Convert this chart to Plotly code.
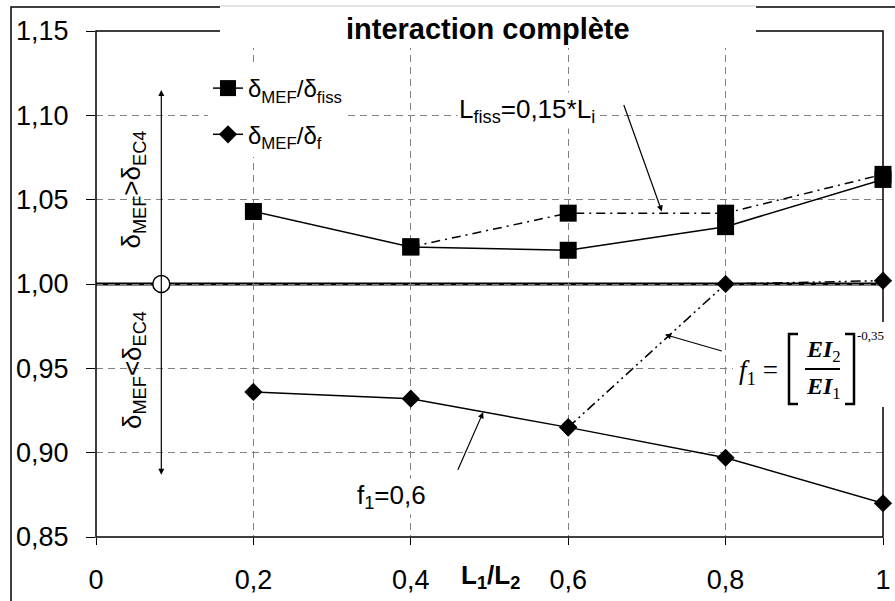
import plotly.graph_objects as go

# valeurs
l_ratio = [0.2, 0.4, 0.6, 0.8, 1.0]
d_fiss = [1.043, 1.022, 1.020, 1.034, 1.062]
x_fiss15 = [0.4, 0.6, 0.8, 1.0]
d_fiss15 = [1.022, 1.042, 1.042, 1.065]
d_f06 = [0.936, 0.932, 0.915, 0.897, 0.870]
x_f1 = [0.6, 0.8, 1.0]
d_f1 = [0.915, 1.000, 1.002]
x_ref = [0.083]
y_ref = [1.0]

x_ticks = [0, 0.2, 0.4, 0.6, 0.8, 1.0]
x_labels = ['0', '0,2', '0,4', '0,6', '0,8', '1']

FONT = 'Liberation Sans'
SERIF = 'Liberation Serif'

# zone de tracé en pixels (895x601)
L, R, T, B = 96, 883, 31, 537


def px(X):
    return (X - L) / (R - L)


def py(Y):
    return 1 - (Y - T) / (B - T)


fig = go.Figure()

fig.add_trace(go.Scatter(
    x=l_ratio, y=d_fiss, mode='lines+markers', name='δ<sub>MEF</sub>/δ<sub>fiss</sub>',
    line=dict(color='black', width=1.5), marker=dict(symbol='square', size=17, color='black'),
    legendgroup='a', cliponaxis=False))
fig.add_trace(go.Scatter(
    x=x_fiss15, y=d_fiss15, mode='lines+markers', showlegend=False,
    line=dict(color='black', width=1.5, dash='9px,5px,2px,5px'),
    marker=dict(symbol='square', size=17, color='black'), cliponaxis=False))
fig.add_trace(go.Scatter(
    x=l_ratio, y=d_f06, mode='lines+markers', name='δ<sub>MEF</sub>/δ<sub>f</sub>',
    line=dict(color='black', width=1.5), marker=dict(symbol='diamond', size=14, color='black'),
    legendgroup='b', cliponaxis=False))
fig.add_trace(go.Scatter(
    x=x_f1, y=d_f1, mode='lines+markers', showlegend=False,
    line=dict(color='black', width=1.5, dash='10px,4px,2px,4px,2px,4px'),
    marker=dict(symbol='diamond', size=14, color='black'), cliponaxis=False))
fig.add_trace(go.Scatter(
    x=x_ref, y=y_ref, mode='markers', showlegend=False,
    marker=dict(symbol='circle', size=17, color='white', line=dict(color='black', width=1.5)),
    cliponaxis=False))

shapes = [
    # cadre extérieur
    dict(type='rect', xref='paper', yref='paper', x0=px(11), x1=px(905), y0=py(7), y1=py(620),
         line=dict(color='black', width=1.5), layer='below'),
    # ligne 1,00
    dict(type='line', xref='x', yref='y', x0=0, x1=1, y0=1, y1=1,
         line=dict(color='black', width=3), layer='below'),
    # cadre de la zone de tracé
    dict(type='rect', xref='paper', yref='paper', x0=0, x1=1, y0=0, y1=1,
         line=dict(color='black', width=1.5), layer='above'),
    # fond blanc du titre
    dict(type='rect', xref='paper', yref='paper', x0=px(220), x1=px(756), y0=py(48), y1=py(6),
         fillcolor='white', line=dict(width=0), layer='above'),
    dict(type='line', xref='paper', yref='paper', x0=px(220), x1=px(756), y0=py(6), y1=py(6),
         line=dict(color='#d9d9d9', width=1.5), layer='above'),
    # fond blanc de la formule
    dict(type='rect', xref='paper', yref='paper', x0=px(733), x1=px(892), y0=py(407), y1=py(322),
         fillcolor='white', line=dict(width=0), layer='above'),
    # crochets et barre de fraction
    dict(type='path', xref='paper', yref='paper', layer='above',
         path=f'M {px(798)} {py(334)} L {px(789)} {py(334)} L {px(789)} {py(404)} L {px(798)} {py(404)}',
         line=dict(color='black', width=2.5)),
    dict(type='path', xref='paper', yref='paper', layer='above',
         path=f'M {px(845)} {py(334)} L {px(854)} {py(334)} L {px(854)} {py(404)} L {px(845)} {py(404)}',
         line=dict(color='black', width=2.5)),
    dict(type='line', xref='paper', yref='paper', x0=px(805), x1=px(840), y0=py(369), y1=py(369),
         line=dict(color='black', width=2), layer='above'),
]


def note(text, x, y, size, family=FONT, ref='paper', **kw):
    return dict(text=text, xref=ref, yref=ref if ref == 'paper' else 'y', x=x, y=y,
                xanchor='center', yanchor='middle', showarrow=False,
                font=dict(family=family, size=size, color='black'), **kw)


def arrow(x, y, ax, ay, **kw):
    return dict(text='', x=x, y=y, ax=ax, ay=ay, axref='x', ayref='y', showarrow=True,
                arrowhead=2, arrowwidth=1.2, arrowcolor='black', **kw)


annotations = [
    note('<b>interaction complète</b>', px(488), py(29), 29),
    note('<b>L<sub>1</sub>/L<sub>2</sub></b>', px(490), py(576), 26),
    note('L<sub>fiss</sub>=0,15*L<sub>i</sub>', 0.548, 1.103, 26, ref='x', bgcolor='white'),
    note('f<sub>1</sub>=0,6', 0.376, 0.874, 26, ref='x', bgcolor='white'),
    note('δ<sub>MEF</sub>&gt;δ<sub>EC4</sub>', 0.047, 1.056, 26, ref='x', textangle=-90),
    note('δ<sub>MEF</sub>&lt;δ<sub>EC4</sub>', 0.047, 0.949, 26, ref='x', textangle=-90),
    # flèche double
    arrow(0.083, 1.115, 0.083, 0.886, startarrowhead=2, arrowside='end+start'),
    # flèches de repère
    arrow(0.719, 1.043, 0.670, 1.107),
    arrow(0.492, 0.924, 0.459, 0.889),
    arrow(0.723, 0.970, 0.797, 0.960),
    # formule f1
    note('<i>f</i><sub>1</sub> =', px(758), py(372), 27, family=SERIF),
    note('<i><b>EI</b></i><sub>2</sub>', px(823), py(351), 24, family=SERIF),
    note('<i><b>EI</b></i><sub>1</sub>', px(823), py(388), 24, family=SERIF),
    note('-0,35', px(870), py(335), 13, family=SERIF),
]

fig.update_layout(
    width=895, height=601,
    margin=dict(l=L, r=895 - R, t=T, b=601 - B, autoexpand=False),
    paper_bgcolor='white', plot_bgcolor='white',
    separators=', ',
    shapes=shapes, annotations=annotations,
    legend=dict(x=px(208), y=py(66), xanchor='left', yanchor='top', bgcolor='white',
                font=dict(family=FONT, size=24, color='black'), tracegroupgap=12,
                traceorder='grouped'),
    xaxis=dict(range=[0, 1], tickvals=x_ticks, ticktext=x_labels,
               showgrid=True, gridcolor='#808080', griddash='7px,5px', gridwidth=1,
               ticks='outside', ticklen=7, tickcolor='black', ticklabelstandoff=12,
               zeroline=False, showline=False,
               tickfont=dict(family=FONT, size=27, color='black')),
    yaxis=dict(range=[0.85, 1.15], dtick=0.05, tick0=0.85, tickformat='.2f',
               showgrid=True, gridcolor='#808080', griddash='7px,5px', gridwidth=1,
               ticks='outside', ticklen=9, tickcolor='black', ticklabelstandoff=12,
               zeroline=False, showline=False,
               tickfont=dict(family=FONT, size=27, color='black')),
)

# la page a une marge de 8 px par défaut : on la retire
fig.write_html("out.html", config={'displayModeBar': False},
               post_script="document.body.style.margin='0';")
